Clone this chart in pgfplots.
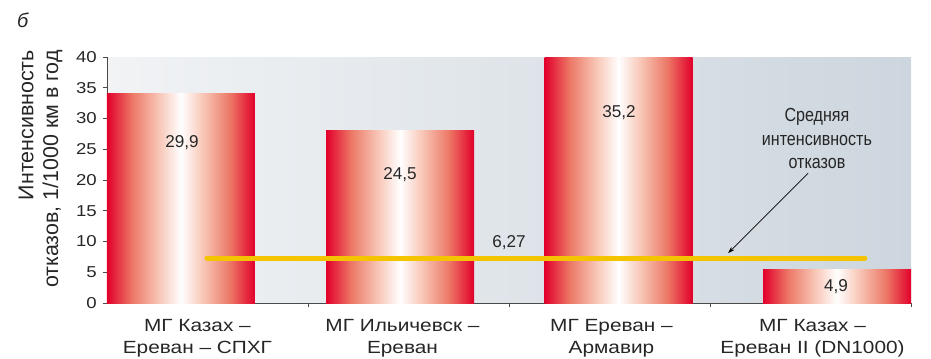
\documentclass[border=0pt]{standalone}
\usepackage{pgfplots}
\pgfplotsset{compat=1.18}
\usepackage{fontspec}
\setmainfont{Liberation Sans}
\newfontfamily\wfont{Liberation Sans}[FakeStretch=1.18]
\newfontfamily\nfont{Liberation Sans}[FakeStretch=0.85]
\usetikzlibrary{arrows.meta}
\definecolor{barred}{HTML}{E2002B}
\definecolor{barsalmonA}{HTML}{EC7866}
\definecolor{barsalmonB}{HTML}{F8C6B6}
\definecolor{bgL}{HTML}{F1F3F5}
\definecolor{bgR}{HTML}{CDD6DE}
\definecolor{gold}{HTML}{F4C400}
\definecolor{axc}{HTML}{4A4A4A}
\definecolor{txt}{HTML}{262626}
\pgfdeclarehorizontalshading{barshade}{100bp}{color(0bp)=(barred); color(25bp)=(barred); color(33.5bp)=(barsalmonA); color(42.5bp)=(barsalmonB); color(50bp)=(white); color(57.5bp)=(barsalmonB); color(66.5bp)=(barsalmonA); color(75bp)=(barred); color(100bp)=(barred)}
\newcommand\xlab{\wfont\fontsize{17.7}{22}\selectfont}
\newcommand\ytl{\wfont\fontsize{15.8}{18}\selectfont}
\newcommand\ylab{\fontsize{21.5}{25}\selectfont}
\newcommand\val{\fontsize{17.2}{20}\selectfont}
\newcommand\ann{\nfont\fontsize{19}{23.5}\selectfont}
\begin{document}
\begin{tikzpicture}
\path[use as bounding box] (-107bp,-56bp) rectangle (824bp,303bp);
\node[anchor=base west, inner sep=0pt, text=txt, font=\itshape\fontsize{20}{22}\selectfont] at (-90bp,275bp) {б};
\begin{axis}[
  at={(0,0)}, anchor=south west,
  scale only axis, width=804bp, height=246bp,
  xmin=0, xmax=4, ymin=0, ymax=40,
  axis lines*=left,
  axis line style={draw=axc, line width=0.9bp},
  axis background/.style={left color=bgL, right color=bgR},
  xtick={1,2,3,4}, xticklabels={,,,},
  extra x ticks={0.45,1.47,2.51,3.51},
  extra x tick labels={{МГ Казах –\\Ереван – СПХГ},{МГ Ильичевск –\\Ереван},{МГ Ереван –\\Армавир},{МГ Казах –\\Ереван II (DN1000)}},
  extra x tick style={major tick length=0pt},
  ytick={0,5,...,40},
  xtick pos=bottom, ytick pos=left,
  tick align=outside, major tick length=4bp,
  tick style={draw=axc, line width=0.8bp},
  /pgf/number format/assume math mode=true,
  yticklabel style={font=\ytl, text=txt, inner sep=0pt, xshift=-6bp},
  xticklabel style={font=\xlab, text=txt, align=center, inner sep=0pt, yshift=-16bp},
  ylabel={Интенсивность\\отказов, 1/1000 км в год},
  ylabel style={font=\ylab, text=txt, align=right, at={(axis description cs:-0.0827,1.0285)}, anchor=east, inner sep=0pt},
  clip=false,
]
\addplot[ybar, bar shift=0pt, bar width=0.736, draw=none, shade, shading=barshade] coordinates {(0.368,34.1)};
\addplot[ybar, bar shift=0pt, bar width=0.736, draw=none, shade, shading=barshade] coordinates {(1.458,28.0)};
\addplot[ybar, bar shift=0pt, bar width=0.736, draw=none, shade, shading=barshade] coordinates {(2.545,40.0)};
\addplot[ybar, bar shift=0pt, bar width=0.736, draw=none, shade, shading=barshade] coordinates {(3.632,5.5)};
\addplot[gold, line width=5bp, line cap=round] coordinates {(0.4975,7.3) (3.771,7.3)};
\draw[black, line width=0.7bp, -{Stealth[length=7bp,width=4.5bp]}] (axis cs:3.488,21.1) -- (axis cs:3.090,8.1);
\node[font=\val, text=txt] at (axis cs:0.373,26.0) {29,9};
\node[font=\val, text=txt] at (axis cs:1.458,20.8) {24,5};
\node[font=\val, text=txt] at (axis cs:2.547,30.9) {35,2};
\node[font=\val, text=txt] at (axis cs:3.627,2.6) {4,9};
\node[font=\val, text=txt] at (axis cs:2.0,9.9) {6,27};
\node[font=\ann, text=txt, align=center] at (axis cs:3.532,26.7) {Средняя\\интенсивность\\отказов};
\end{axis}
\end{tikzpicture}
\end{document}
